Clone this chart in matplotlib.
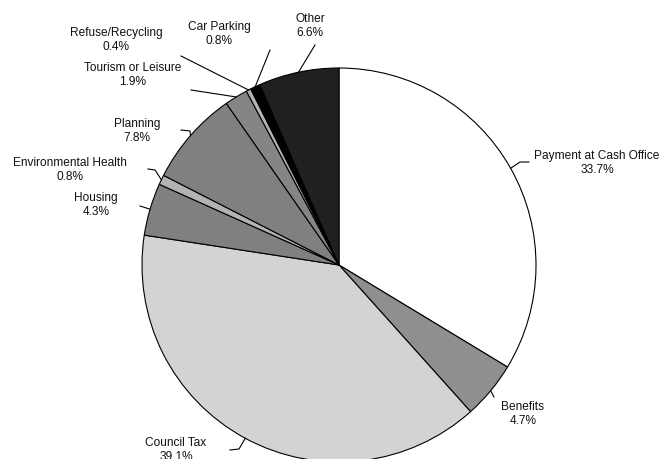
import numpy as np
import matplotlib.pyplot as plt

plt.rcParams['font.family'] = ['Liberation Sans', 'DejaVu Sans']

# Datos del gráfico
categorias = ['Payment at Cash Office', 'Benefits', 'Council Tax', 'Housing',
              'Environmental Health', 'Planning', 'Tourism or Leisure',
              'Refuse/Recycling', 'Car Parking', 'Other']
porcentajes = [33.7, 4.7, 39.1, 4.3, 0.8, 7.8, 1.9, 0.4, 0.8, 6.6]
colores = ['#ffffff', '#8f8f8f', '#d3d3d3', '#808080', '#b3b3b3',
           '#808080', '#858585', '#b3b3b3', '#000000', '#202020']

# Posición de las etiquetas (píxeles en la imagen) y puntos de la línea guía
pos_etiquetas = [(597, 163), (523, 414), (176, 450), (96, 205), (70, 170),
                 (137, 131), (133, 75), (116, 40), (219, 34), (310, 26)]
guias = [[(520, 162), (529, 162)], [(494, 397)], [(239, 449), (230, 450)],
         [(140, 206)], [(155, 170), (148, 169)], [(190, 131), (181, 130)],
         [(191, 90)], [(181, 56)], [(270, 50)], [(315, 45)]]

ANCHO, ALTO = 663, 459
CX, CY, R = 339, 265, 197


def a_datos(p):
    return ((p[0] - CX) / R, (CY - p[1]) / R)


fig = plt.figure(figsize=(ANCHO / 100, ALTO / 100), dpi=100)
ax = fig.add_axes([0, 0, 1, 1])

cunas, _ = ax.pie(porcentajes, colors=colores, startangle=90, counterclock=False,
                  radius=1.0, wedgeprops=dict(edgecolor='black', linewidth=0.8))

for cuna, etiqueta, pct, pos, guia in zip(cunas, categorias, porcentajes, pos_etiquetas, guias):
    ang = np.deg2rad((cuna.theta1 + cuna.theta2) / 2)
    puntos = [(np.cos(ang), np.sin(ang))] + [a_datos(p) for p in guia]
    xs, ys = zip(*puntos)
    ax.plot(xs, ys, color='black', linewidth=0.8)
    tx, ty = a_datos(pos)
    ax.text(tx, ty, f'{etiqueta}\n{pct:.1f}%', ha='center', va='center',
            fontsize=8.6, color='#111111', linespacing=1.3)

ax.set_xlim(-CX / R, (ANCHO - CX) / R)
ax.set_ylim(-(ALTO - CY) / R, CY / R)
ax.set_aspect('equal')
ax.axis('off')

fig.savefig('out.png', dpi=100)
